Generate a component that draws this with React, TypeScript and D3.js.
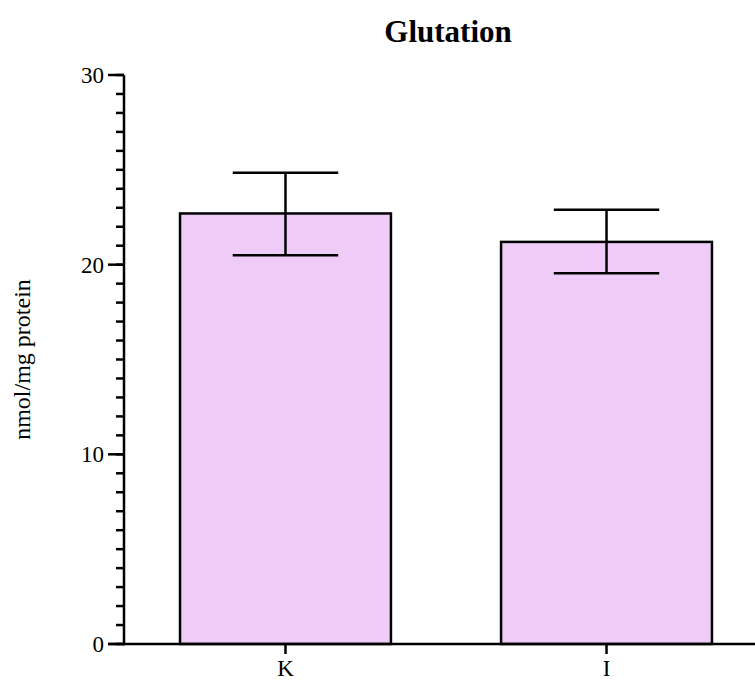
import React from "react";
import * as d3 from "d3";

const categories = ["K", "I"];
const means = [22.7, 21.2];
const errLow = [20.5, 19.55];
const errHigh = [24.85, 22.9];
const yTicks = [0, 10, 20, 30];
const yMinorTicks = d3.range(0, 31, 1);

const W = 755;
const H = 682;
const FONT = "'Liberation Serif', 'Times New Roman', serif";

export default function App() {
  const x = d3.scaleBand<string>().domain(categories).range([124, 768]).paddingInner(0.343).paddingOuter(0.1745);
  const y = d3.scaleLinear().domain([0, 30]).range([644, 75]);
  const bw = x.bandwidth();
  const capW = bw / 2;
  return (
    <svg width={W} height={H} style={{ position: "absolute", left: 0, top: 0 }} fontFamily={FONT}>
      <text x={448} y={42} textAnchor="middle" fontWeight="bold" fontSize={31}>Glutation</text>
      <text transform={`translate(30,${y(15)}) rotate(-90)`} textAnchor="middle" fontSize={24}>nmol/mg protein</text>
      {categories.map((c, i) => {
        const cx = (x(c) as number) + bw / 2;
        return (
          <g key={c}>
            <rect x={x(c)} y={y(means[i])} width={bw} height={y(0) - y(means[i])} fill="#EECCF7" stroke="#000" strokeWidth={2.5} />
            <line x1={cx} x2={cx} y1={y(errLow[i])} y2={y(errHigh[i])} stroke="#000" strokeWidth={2.5} />
            <line x1={cx - capW / 2} x2={cx + capW / 2} y1={y(errLow[i])} y2={y(errLow[i])} stroke="#000" strokeWidth={2.5} />
            <line x1={cx - capW / 2} x2={cx + capW / 2} y1={y(errHigh[i])} y2={y(errHigh[i])} stroke="#000" strokeWidth={2.5} />
            <line x1={cx} x2={cx} y1={y(0)} y2={y(0) + 10} stroke="#000" strokeWidth={2.5} />
            <text x={cx} y={y(0) + 32} textAnchor="middle" fontSize={23}>{c}</text>
          </g>
        );
      })}
      {yMinorTicks.map((t) => (
        <line key={"m" + t} x1={116} x2={124} y1={y(t)} y2={y(t)} stroke="#000" strokeWidth={2.5} />
      ))}
      {yTicks.map((t) => (
        <g key={t}>
          <line x1={108} x2={124} y1={y(t)} y2={y(t)} stroke="#000" strokeWidth={2.5} />
          <text x={104} y={y(t) + 8} textAnchor="end" fontSize={23}>{t}</text>
        </g>
      ))}
      <line x1={124} x2={124} y1={y(30)} y2={y(0) + 1.25} stroke="#000" strokeWidth={2.5} />
      <line x1={108} x2={755} y1={y(0)} y2={y(0)} stroke="#000" strokeWidth={2.5} />
    </svg>
  );
}
